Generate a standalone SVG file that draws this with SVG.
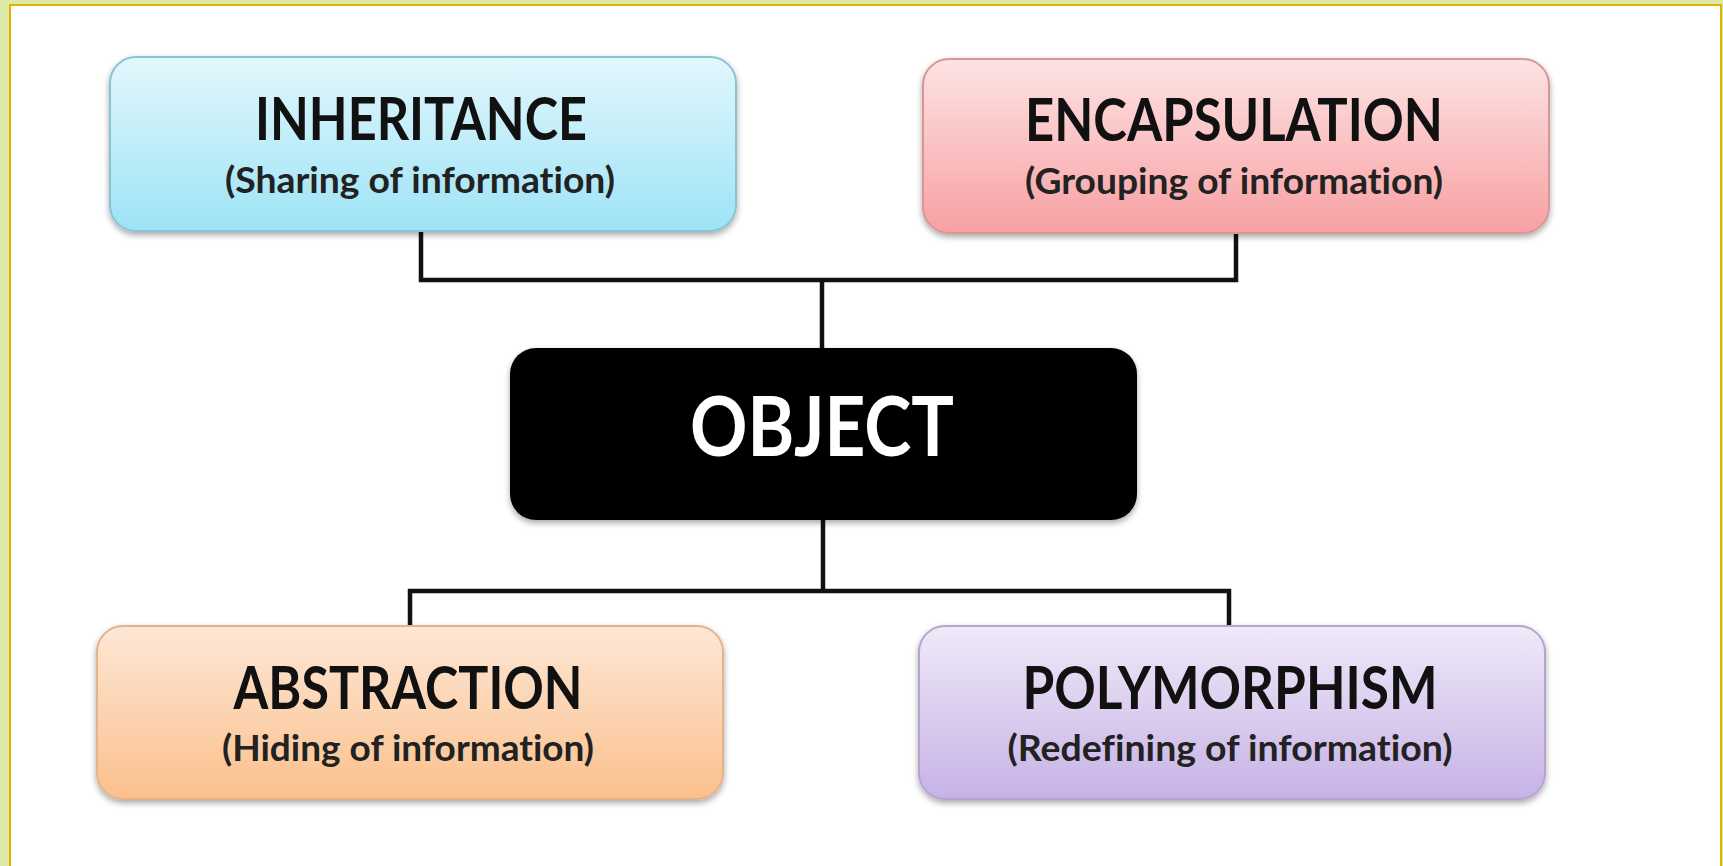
<svg xmlns="http://www.w3.org/2000/svg" width="1723" height="866" viewBox="0 0 1723 866">
<style>
.box{stroke-width:2}
text{font-variant-ligatures:none;font-feature-settings:"liga" 0}
.title{font-family:Lato,"Open Sans","Liberation Sans",sans-serif;font-weight:bold;font-size:59px;fill:#111;text-anchor:middle}
.sub{font-family:Lato,"Open Sans","Liberation Sans",sans-serif;font-weight:bold;font-size:36px;fill:#222;text-anchor:middle}
.obj{font-family:Lato,"Open Sans","Liberation Sans",sans-serif;font-weight:bold;font-size:82px;fill:#fff;text-anchor:middle}
.conn{fill:none;stroke:#111;stroke-width:4.5;stroke-linejoin:miter}
</style>
<defs>
<filter id="sh" x="-10%" y="-20%" width="120%" height="150%">
<feGaussianBlur in="SourceAlpha" stdDeviation="3"/>
<feOffset dy="3" result="b"/>
<feComponentTransfer><feFuncA type="linear" slope="0.35"/></feComponentTransfer>
<feMerge><feMergeNode/><feMergeNode in="SourceGraphic"/></feMerge>
</filter>
<linearGradient id="gBlue" x1="0" y1="0" x2="0" y2="1"><stop offset="0" stop-color="#e2f7fc"/><stop offset="1" stop-color="#9de3f6"/></linearGradient>
<linearGradient id="gRed" x1="0" y1="0" x2="0" y2="1"><stop offset="0" stop-color="#fde3e3"/><stop offset="1" stop-color="#f8a0a3"/></linearGradient>
<linearGradient id="gOr" x1="0" y1="0" x2="0" y2="1"><stop offset="0" stop-color="#fde7d6"/><stop offset="1" stop-color="#fbc08c"/></linearGradient>
<linearGradient id="gPu" x1="0" y1="0" x2="0" y2="1"><stop offset="0" stop-color="#efe9f8"/><stop offset="1" stop-color="#c7b2e6"/></linearGradient>
</defs>
<rect x="0" y="0" width="1723" height="866" fill="#dde9a7"/>
<rect x="10" y="5" width="1711" height="880" fill="#ffffff" stroke="#e5b000" stroke-width="2"/>

<g id="connectors">
<polyline class="conn" points="421,231 421,280 1236,280 1236,233"/>
<line class="conn" x1="822" y1="280" x2="822" y2="350"/>
<line class="conn" x1="823" y1="518" x2="823" y2="591"/>
<polyline class="conn" points="410,626 410,591 1229,591 1229,626"/>
</g>

<g id="inheritance">
<rect class="box" x="110" y="57" width="626" height="174" rx="26" fill="url(#gBlue)" stroke="#8cc3d3" filter="url(#sh)"/>
<text class="title" x="421" y="140" textLength="332" lengthAdjust="spacingAndGlyphs">INHERITANCE</text>
<text class="sub" x="420" y="193" textLength="390" lengthAdjust="spacingAndGlyphs">(Sharing of information)</text>
</g>

<g id="encapsulation">
<rect class="box" x="923" y="59" width="626" height="174" rx="26" fill="url(#gRed)" stroke="#dc9494" filter="url(#sh)"/>
<text class="title" x="1234" y="141" textLength="418" lengthAdjust="spacingAndGlyphs">ENCAPSULATION</text>
<text class="sub" x="1234" y="194" textLength="418" lengthAdjust="spacingAndGlyphs">(Grouping of information)</text>
</g>

<g id="object">
<rect x="510" y="348" width="627" height="172" rx="26" fill="#000" filter="url(#sh)"/>
<text class="obj" x="822" y="456" textLength="264" lengthAdjust="spacingAndGlyphs">OBJECT</text>
</g>

<g id="abstraction">
<rect class="box" x="97" y="626" width="626" height="173" rx="26" fill="url(#gOr)" stroke="#e2b48e" filter="url(#sh)"/>
<text class="title" x="408" y="709" textLength="349" lengthAdjust="spacingAndGlyphs">ABSTRACTION</text>
<text class="sub" x="408" y="761" textLength="372" lengthAdjust="spacingAndGlyphs">(Hiding of information)</text>
</g>

<g id="polymorphism">
<rect class="box" x="919" y="626" width="626" height="173" rx="26" fill="url(#gPu)" stroke="#b6a4cf" filter="url(#sh)"/>
<text class="title" x="1230" y="709" textLength="415" lengthAdjust="spacingAndGlyphs">POLYMORPHISM</text>
<text class="sub" x="1230" y="761" textLength="445" lengthAdjust="spacingAndGlyphs">(Redefining of information)</text>
</g>
</svg>
